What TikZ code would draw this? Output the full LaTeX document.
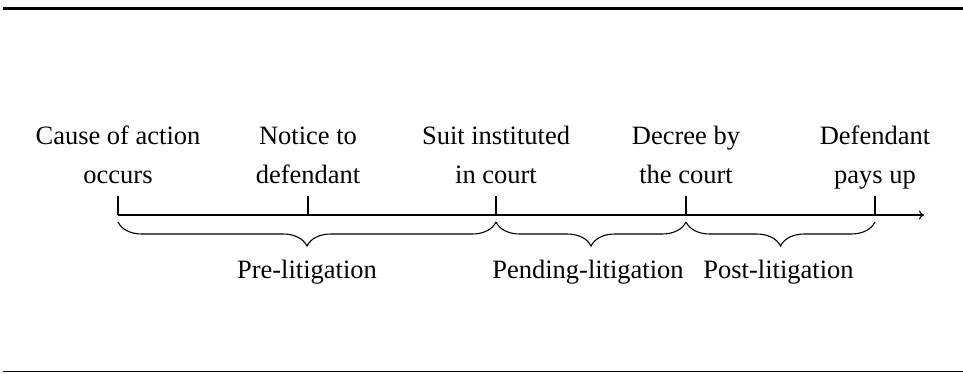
\documentclass[tikz,border=0pt]{standalone}
\usepackage{fontspec}
\setmainfont{Liberation Serif}
\usetikzlibrary{decorations.pathreplacing,arrows.meta}
\begin{document}
\begin{tikzpicture}[x=1pt,y=-1pt,
  line/.style={line width=1.1pt},
  evt/.style={anchor=base,align=center,inner sep=0pt,font=\fontsize{26.5}{39}\selectfont},
  phase/.style={anchor=base,inner sep=0pt,font=\fontsize{26.5}{39}\selectfont},
  brc/.style={line width=1.1pt,decorate,decoration={brace,mirror,amplitude=24pt}}]
\useasboundingbox (0,0) rectangle (963,373);
\draw[line width=2.6pt] (3,8.7) -- (963,8.7);
\draw[line width=1.5pt] (3,371.7) -- (963,371.7);
% timeline points
\coordinate (t1) at (118,215);
\coordinate (t2) at (308,215);
\coordinate (t3) at (496,215);
\coordinate (t4) at (686,215);
\coordinate (t5) at (875,215);
\coordinate (tend) at (924,215);
\foreach \i in {1,...,5}{\coordinate (u\i) at ([yshift=19.5pt]t\i);}
\draw[line,-{To[length=5pt,width=9pt]}] (t1) -- (tend);
\foreach \i in {1,...,5}{\draw[line] (t\i) -- (u\i);}
% event labels (anchor base = last line baseline)
\node[evt] (e1) at (118,183) {Cause of action\\occurs};
\node[evt] (e2) at (308,183) {Notice to\\defendant};
\node[evt] (e3) at (496,183) {Suit instituted\\in court};
\node[evt] (e4) at (686,183) {Decree by\\the court};
\node[evt] (e5) at (875,183) {Defendant\\pays up};
% braces
\foreach \i in {1,...,5}{\coordinate (b\i) at ([yshift=-7pt]t\i);}
\draw[brc] (b1) -- (b3);
\draw[brc] (b3) -- (b4);
\draw[brc] (b4) -- (b5);
\node[phase] (p1) at (307,278) {Pre-litigation};
\node[phase] (p2) at (588,278) {Pending-litigation};
\node[phase] (p3) at (778.5,278) {Post-litigation};
\end{tikzpicture}
\end{document}
